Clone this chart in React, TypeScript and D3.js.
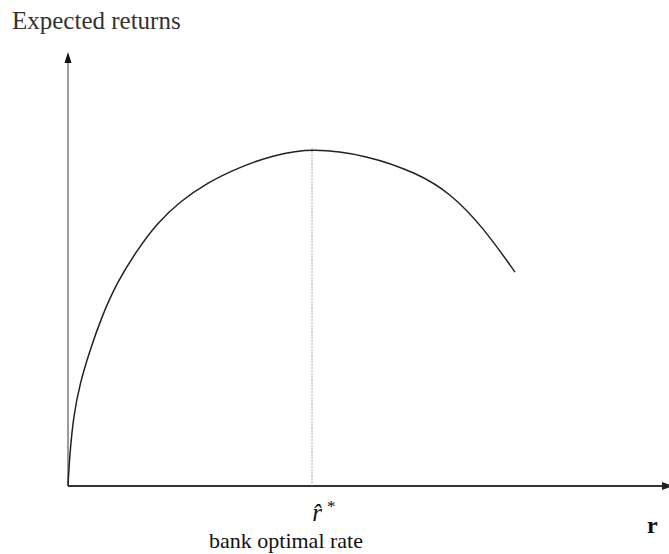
import React from "react";
import * as d3 from "d3";

const rates = [0, 0.0022, 0.0088, 0.02, 0.0367, 0.0562, 0.0812, 0.1142, 0.1483, 0.1867, 0.2312, 0.2867, 0.3417, 0.4067, 0.4983, 0.5817, 0.6367, 0.6917, 0.745];
const returns = [0, 0.06, 0.16, 0.238, 0.314, 0.391, 0.469, 0.543, 0.607, 0.657, 0.7, 0.737, 0.764, 0.781, 0.764, 0.723, 0.677, 0.598, 0.494];
const optimalRate = 0.4067;
const optimalReturn = 0.781;
const yLabel = "Expected returns";
const xLabel = "r";
const optLabel = "bank optimal rate";

export default function App() {
  const W = 669, H = 554;
  const x = d3.scaleLinear().domain([0, 1]).range([68, 668]);
  const y = d3.scaleLinear().domain([0, 1]).range([486, 53]);
  const pts = rates.map((r, i) => [r, returns[i]] as [number, number]);
  const line = d3.line<[number, number]>().x(d => x(d[0])).y(d => y(d[1])).curve(d3.curveBasis);
  const serif = "'Liberation Serif', 'DejaVu Serif', serif";
  const x0 = x(0), y0 = y(0);
  return (
    <svg width={W} height={H} style={{ position: "absolute", left: 0, top: 0, background: "#fff" }}>
      <text x={12} y={29} fontFamily={serif} fontSize={25} fill="#333">{yLabel}</text>
      <line x1={x0} x2={x0} y1={y0} y2={60} stroke="#666" strokeWidth={1.3} />
      <path d={`M${x0 - 3.5},63 L${x0},52 L${x0 + 3.5},63 Z`} fill="#111" />
      <line x1={x0} x2={W} y1={y0} y2={y0} stroke="#333" strokeWidth={2} />
      <path d={`M662,${y0 - 4} L673,${y0} L662,${y0 + 4} Z`} fill="#222" />
      <line x1={x(optimalRate)} x2={x(optimalRate)} y1={y(optimalReturn)} y2={y0} stroke="#aaa" strokeWidth={1} strokeDasharray="2,1" />
      <path d={line(pts) || ""} fill="none" stroke="#222" strokeWidth={1.5} />
      <text x={x(optimalRate) + 5} y={521} fontFamily={serif} fontSize={25} fontStyle="italic" textAnchor="middle" fill="#111">r̂</text>
      <text x={x(optimalRate) + 15} y={512} fontFamily={serif} fontSize={17} fill="#111">*</text>
      <text x={286} y={548} fontFamily={serif} fontSize={22} textAnchor="middle" fill="#111">{optLabel}</text>
      <text x={647} y={533} fontFamily={serif} fontSize={24} fontWeight="bold" fill="#111">{xLabel}</text>
    </svg>
  );
}
